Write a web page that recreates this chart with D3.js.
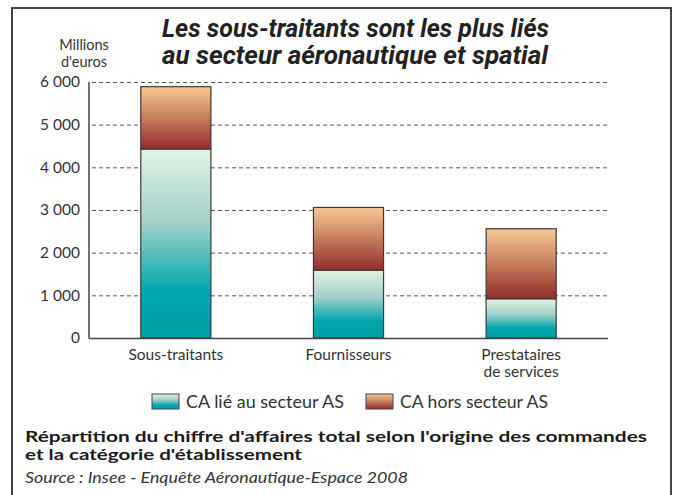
<!DOCTYPE html>
<html lang="fr">
<head>
<meta charset="utf-8">
<script src="https://d3js.org/d3.v7.min.js"></script>
<style>
  body { margin: 0; background: #fff; }
  text { font-family: Lato, "Open Sans", sans-serif; fill: #333; }
</style>
</head>
<body>
<svg id="chart" width="677" height="495"></svg>
<script>
// données (millions d'euros)
const categories = ["Sous-traitants", "Fournisseurs", "Prestataires\nde services"];
const caLieAS = [4430, 1590, 920];
const caHorsAS = [1460, 1470, 1640];
const yTicks = [0, 1000, 2000, 3000, 4000, 5000, 6000];
const seriesNames = ["CA lié au secteur AS", "CA hors secteur AS"];

const width = 677, height = 495;
const margin = { left: 89, right: 69, top: 82, bottom: 157 };

const svg = d3.select("#chart");

// dégradés
const defs = svg.append("defs");
const gAS = defs.append("linearGradient").attr("id", "gradAS")
    .attr("x1", 0).attr("y1", 0).attr("x2", 0).attr("y2", 1);
gAS.append("stop").attr("offset", "0%").attr("stop-color", "#e3f2e2");
gAS.append("stop").attr("offset", "40%").attr("stop-color", "#9fd0c9");
gAS.append("stop").attr("offset", "75%").attr("stop-color", "#00a7ad");
gAS.append("stop").attr("offset", "100%").attr("stop-color", "#009ea4");
const gHors = defs.append("linearGradient").attr("id", "gradHors")
    .attr("x1", 0).attr("y1", 0).attr("x2", 0).attr("y2", 1);
gHors.append("stop").attr("offset", "0%").attr("stop-color", "#f9c993");
gHors.append("stop").attr("offset", "50%").attr("stop-color", "#c67d5d");
gHors.append("stop").attr("offset", "100%").attr("stop-color", "#932c2d");

// cadre
svg.append("rect")
    .attr("x", 12).attr("y", 8).attr("width", 659).attr("height", 500)
    .attr("fill", "none").attr("stroke", "#444").attr("stroke-width", 2);

// titre
const title = svg.append("g").attr("font-weight", "bold").attr("font-style", "italic");
title.append("text").attr("x", 162).attr("y", 37)
    .attr("textLength", 387).attr("lengthAdjust", "spacingAndGlyphs")
    .style("font-family", "Roboto, sans-serif").style("font-size", "25px").style("fill", "#222")
    .text("Les sous-traitants sont les plus liés");
title.append("text").attr("x", 162).attr("y", 64)
    .attr("textLength", 386).attr("lengthAdjust", "spacingAndGlyphs")
    .style("font-family", "Roboto, sans-serif").style("font-size", "25px").style("fill", "#222")
    .text("au secteur aéronautique et spatial");

// unité
svg.append("text").attr("x", 84).attr("y", 50).attr("text-anchor", "middle")
    .style("font-size", "14.5px").text("Millions");
svg.append("text").attr("x", 84).attr("y", 67).attr("text-anchor", "middle")
    .style("font-size", "14.5px").text("d'euros");

const x = d3.scaleBand()
    .domain(categories)
    .range([margin.left, 608])
    .paddingInner(0.594).paddingOuter(0.30);

const y = d3.scaleLinear()
    .domain([0, 6000])
    .range([338, margin.top]);

const fmt = v => d3.format(",")(v).replace(/,/g, " ");

// grille
svg.append("g").selectAll("line")
    .data(yTicks.filter(d => d > 0))
    .join("line")
    .attr("x1", margin.left + 3).attr("x2", 608)
    .attr("y1", d => y(d) + 0.5).attr("y2", d => y(d) + 0.5)
    .attr("stroke", "#555").attr("stroke-width", 1)
    .attr("stroke-dasharray", "4,3");

// étiquettes de l'axe y
svg.append("g").selectAll("text")
    .data(yTicks)
    .join("text")
    .attr("x", 80).attr("y", d => y(d))
    .attr("dy", "0.35em")
    .attr("text-anchor", "end")
    .style("font-size", "15.5px")
    .text(d => fmt(d));

// barres empilées
const stackData = categories.map((c, i) => ({ cat: c, as: caLieAS[i], hors: caHorsAS[i] }));
const stack = d3.stack().keys(["as", "hors"])(stackData);
const fills = { as: "url(#gradAS)", hors: "url(#gradHors)" };

svg.append("g").selectAll("g")
    .data(stack)
    .join("g")
    .attr("fill", d => fills[d.key])
    .selectAll("rect")
    .data(d => d)
    .join("rect")
    .attr("x", d => x(d.data.cat))
    .attr("width", x.bandwidth())
    .attr("y", d => y(d[1]))
    .attr("height", d => y(d[0]) - y(d[1]))
    .attr("stroke", "#3a3a3a")
    .attr("stroke-width", 1.2);

// axes
svg.append("line").attr("x1", margin.left).attr("x2", margin.left)
    .attr("y1", margin.top).attr("y2", 338.5)
    .attr("stroke", "#444").attr("stroke-width", 1.5);
svg.append("line").attr("x1", margin.left).attr("x2", 608)
    .attr("y1", 338.5).attr("y2", 338.5)
    .attr("stroke", "#444").attr("stroke-width", 1.5);

// catégories
svg.append("g").selectAll("text")
    .data(categories)
    .join("text")
    .attr("x", d => x(d) + x.bandwidth() / 2)
    .attr("y", 360)
    .attr("text-anchor", "middle")
    .style("font-size", "15.5px")
    .each(function (d) {
        d.split("\n").forEach((line, i) => {
            d3.select(this).append("tspan")
                .attr("x", x(d) + x.bandwidth() / 2)
                .attr("dy", i === 0 ? 0 : 17)
                .text(line);
        });
    });

// légende
const legendX = [152, 366];
const legendLen = [158, 148];
const legendFill = ["url(#gradAS)", "url(#gradHors)"];
const legend = svg.append("g").selectAll("g")
    .data(seriesNames)
    .join("g")
    .attr("transform", (d, i) => `translate(${legendX[i]},394)`);
legend.append("rect")
    .attr("width", 27).attr("height", 15)
    .attr("fill", (d, i) => legendFill[i])
    .attr("stroke", "#444").attr("stroke-width", 1);
legend.append("text")
    .attr("x", 34).attr("y", 14)
    .attr("textLength", (d, i) => legendLen[i]).attr("lengthAdjust", "spacingAndGlyphs")
    .style("font-size", "17px")
    .text(d => d);

// note et source
svg.append("text").attr("x", 25).attr("y", 442)
    .attr("textLength", 622).attr("lengthAdjust", "spacingAndGlyphs")
    .style("font-size", "15px").style("font-weight", "bold").style("fill", "#1a1a1a")
    .text("Répartition du chiffre d'affaires total selon l'origine des commandes");
svg.append("text").attr("x", 25).attr("y", 460)
    .attr("textLength", 277).attr("lengthAdjust", "spacingAndGlyphs")
    .style("font-size", "15px").style("font-weight", "bold").style("fill", "#1a1a1a")
    .text("et la catégorie d'établissement");
svg.append("text").attr("x", 25).attr("y", 483)
    .attr("textLength", 383).attr("lengthAdjust", "spacingAndGlyphs")
    .style("font-size", "15px").style("font-style", "italic")
    .text("Source : Insee - Enquête Aéronautique-Espace 2008");
</script>
</body>
</html>
